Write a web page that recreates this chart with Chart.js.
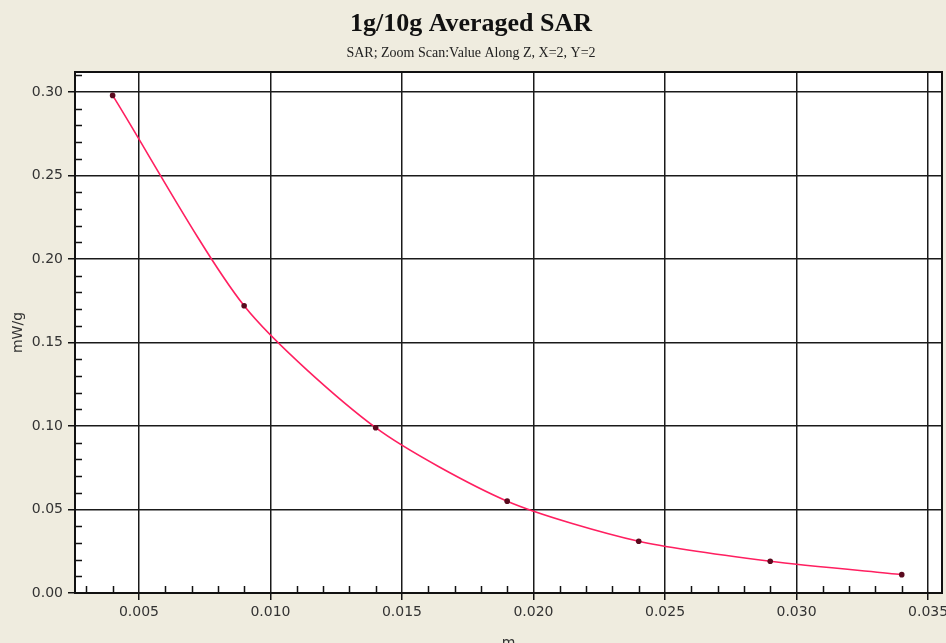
<!DOCTYPE html>
<html>
<head>
<meta charset="utf-8">
<script src="https://cdn.jsdelivr.net/npm/chart.js@4.4.1/dist/chart.umd.min.js"></script>
<style>
  html, body { margin: 0; padding: 0; background: #efecdf; }
  #wrap { width: 946px; height: 643px; }
</style>
</head>
<body>
<div id="wrap"><canvas id="sar-chart" width="946" height="643"></canvas></div>
<script>
// distance along Z (m) and averaged SAR (mW/g)
const zValues = [0.004, 0.009, 0.014, 0.019, 0.024, 0.029, 0.034];
const sarValues = [0.298, 0.172, 0.099, 0.055, 0.031, 0.019, 0.011];

// major tick labels
const xTicks = [0.005, 0.010, 0.015, 0.020, 0.025, 0.030, 0.035];
const yTicks = [0.00, 0.05, 0.10, 0.15, 0.20, 0.25, 0.30];

const tickFont = { family: '"DejaVu Sans", sans-serif', size: 14 };

// white plot area with a full frame and small inner minor ticks
const plotFrame = {
    id: 'plotFrame',
    beforeDraw(chart) {
        const { ctx, chartArea: a } = chart;
        ctx.save();
        ctx.fillStyle = '#ffffff';
        ctx.fillRect(a.left, a.top, a.right - a.left, a.bottom - a.top);
        ctx.restore();
    },
    afterDraw(chart) {
        const { ctx, chartArea: a, scales } = chart;
        ctx.save();
        ctx.strokeStyle = '#111';
        ctx.lineWidth = 1.5;
        // minor ticks every 0.001 on x, every 0.01 on y
        ctx.beginPath();
        for (let i = 3; i <= 35; i++) {
            if (i % 5 === 0) continue;
            const px = Math.round(scales.x.getPixelForValue(i / 1000)) + 0.5;
            ctx.moveTo(px, a.bottom);
            ctx.lineTo(px, a.bottom - 7);
        }
        for (let i = 1; i <= 31; i++) {
            if (i % 5 === 0) continue;
            const py = Math.round(scales.y.getPixelForValue(i / 100)) + 0.5;
            ctx.moveTo(a.left, py);
            ctx.lineTo(a.left + 7, py);
        }
        ctx.stroke();
        ctx.lineWidth = 2;
        ctx.strokeRect(a.left, a.top, a.right - a.left, a.bottom - a.top);
        ctx.restore();
    }
};

new Chart(document.getElementById('sar-chart'), {
    type: 'scatter',
    data: {
        datasets: [{
            label: 'SAR',
            data: zValues.map((z, i) => ({ x: z, y: sarValues[i] })),
            showLine: true,
            borderColor: '#ff1f60',
            borderWidth: 1.6,
            tension: 0.25,
            pointRadius: 2.8,
            pointBackgroundColor: '#5a0a1e',
            pointBorderColor: '#5a0a1e',
            pointBorderWidth: 0
        }]
    },
    options: {
        responsive: false,
        animation: false,
        layout: { padding: { top: 0, right: 4, left: 0, bottom: 0 } },
        plugins: {
            legend: { display: false },
            tooltip: { enabled: false },
            title: {
                display: true,
                text: '1g/10g Averaged SAR',
                color: '#111',
                font: { family: '"Liberation Serif", serif', size: 26, weight: 'bold' },
                padding: { top: 9, bottom: 1 }
            },
            subtitle: {
                display: true,
                text: 'SAR; Zoom Scan:Value Along Z, X=2, Y=2',
                color: '#222',
                font: { family: '"Liberation Serif", serif', size: 14 },
                padding: { top: 4, bottom: 10 }
            }
        },
        scales: {
            x: {
                type: 'linear',
                min: 0.00257,
                max: 0.03553,
                afterBuildTicks(scale) {
                    scale.ticks = xTicks.map(v => ({ value: v }));
                },
                afterFit(scale) {
                    scale.height = 50;
                    // let the last label run off the edge like the original
                    scale.paddingLeft = 0;
                    scale.paddingRight = 0;
                },
                ticks: {
                    font: tickFont,
                    color: '#333',
                    padding: 4,
                    maxRotation: 0,
                    callback: v => v.toFixed(3)
                },
                grid: { color: '#1a1a1a', lineWidth: 1.5, tickLength: 7, tickColor: '#111', tickWidth: 1.5 },
                border: { display: false },
                title: {
                    display: true,
                    text: 'm',
                    color: '#333',
                    font: tickFont,
                    padding: { top: 0, bottom: -9 }
                }
            },
            y: {
                type: 'linear',
                min: 0,
                max: 0.312,
                afterBuildTicks(scale) {
                    scale.ticks = yTicks.map(v => ({ value: v }));
                },
                afterFit(scale) { scale.width = 75; },
                ticks: {
                    font: tickFont,
                    color: '#333',
                    padding: 5,
                    callback: v => v.toFixed(2)
                },
                grid: { color: '#1a1a1a', lineWidth: 1.5, tickLength: 7, tickColor: '#111', tickWidth: 1.5 },
                border: { display: false },
                title: {
                    display: true,
                    text: 'mW/g',
                    color: '#333',
                    font: tickFont,
                    padding: { top: 10, bottom: 0 }
                }
            }
        }
    },
    plugins: [plotFrame]
});
</script>
</body>
</html>
